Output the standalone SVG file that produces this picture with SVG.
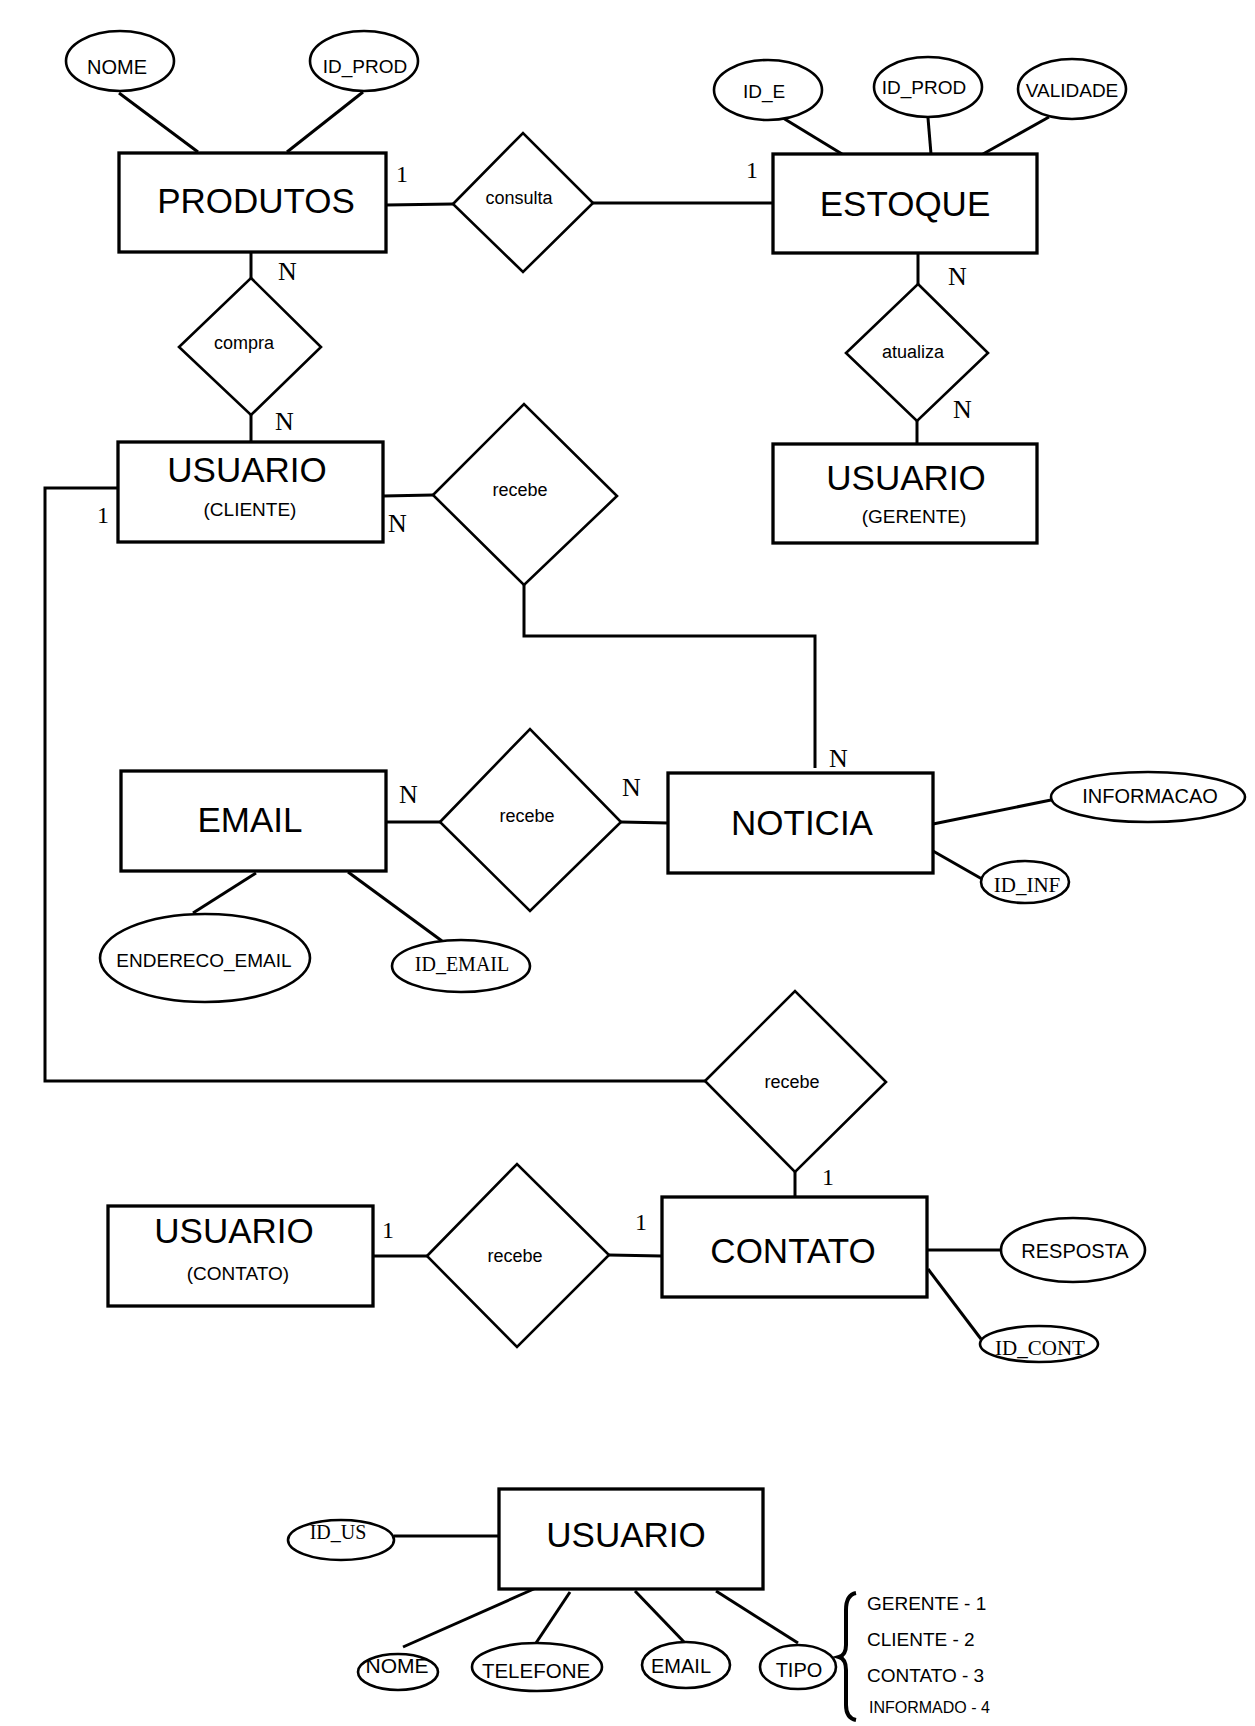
<svg xmlns="http://www.w3.org/2000/svg" width="1255" height="1726" viewBox="0 0 1255 1726">
<style>
.ent{fill:#fff;stroke:#000;stroke-width:3.3}
.rel{fill:#fff;stroke:#000;stroke-width:2.6}
.att{fill:#fff;stroke:#000;stroke-width:2.6}
.ln{fill:none;stroke:#000;stroke-width:3}
.big{font-family:"Liberation Sans",Arial,sans-serif;font-size:35px;text-anchor:middle;fill:#000}
.sub{font-family:"Liberation Sans",Arial,sans-serif;font-size:19px;text-anchor:middle;fill:#000}
.rt{font-family:"Liberation Sans",Arial,sans-serif;font-size:18px;text-anchor:middle;fill:#000}
.at{font-family:"Liberation Sans",Arial,sans-serif;font-size:19px;text-anchor:middle;fill:#000}
.at20{font-size:20px}
.sat{font-family:"Liberation Serif","Times New Roman",serif;font-size:21px;text-anchor:middle;fill:#000}
.card{font-family:"Liberation Serif","Times New Roman",serif;font-size:26px;fill:#000}
.one{font-size:24px}
.leg{font-family:"Liberation Sans",Arial,sans-serif;font-size:19px;fill:#000}
</style>
<rect width="1255" height="1726" fill="#fff"/>
<g id="connectors">
<line class="ln" x1="119" y1="93" x2="198" y2="152"/>
<line class="ln" x1="363" y1="92" x2="287" y2="152"/>
<line class="ln" x1="386" y1="205" x2="453" y2="204"/>
<line class="ln" x1="593" y1="203" x2="773" y2="203"/>
<line class="ln" x1="783" y1="118" x2="842" y2="154"/>
<line class="ln" x1="928" y1="118" x2="931" y2="154"/>
<line class="ln" x1="1049" y1="117" x2="983" y2="154"/>
<line class="ln" x1="251" y1="252" x2="251" y2="278"/>
<line class="ln" x1="251" y1="415" x2="251" y2="442"/>
<line class="ln" x1="918" y1="253" x2="918" y2="284"/>
<line class="ln" x1="917" y1="421" x2="917" y2="445"/>
<line class="ln" x1="383" y1="496" x2="433" y2="495"/>
<polyline class="ln" points="524,585 524,636 815,636 815,768"/>
<polyline class="ln" points="118,488 45,488 45,1081 705,1081"/>
<line class="ln" x1="386" y1="822" x2="440" y2="822"/>
<line class="ln" x1="621" y1="822" x2="668" y2="823"/>
<line class="ln" x1="256" y1="873" x2="193" y2="913"/>
<line class="ln" x1="348" y1="872" x2="442" y2="941"/>
<line class="ln" x1="933" y1="824" x2="1051" y2="800"/>
<line class="ln" x1="933" y1="851" x2="982" y2="879"/>
<line class="ln" x1="795" y1="1172" x2="795" y2="1197"/>
<line class="ln" x1="373" y1="1256" x2="427" y2="1256"/>
<line class="ln" x1="609" y1="1255" x2="662" y2="1256"/>
<line class="ln" x1="927" y1="1250" x2="1001" y2="1250"/>
<line class="ln" x1="928" y1="1269" x2="981" y2="1339"/>
<line class="ln" x1="394" y1="1536" x2="499" y2="1536"/>
<line class="ln" x1="536" y1="1588" x2="403" y2="1647"/>
<line class="ln" x1="570" y1="1592" x2="536" y2="1643"/>
<line class="ln" x1="635" y1="1591" x2="685" y2="1643"/>
<line class="ln" x1="716" y1="1591" x2="798" y2="1643"/>
</g>
<g id="cardinalities">
<text class="card one" x="396" y="182">1</text>
<text class="card one" x="746" y="178">1</text>
<text class="card" x="278" y="280">N</text>
<text class="card" x="275" y="430">N</text>
<text class="card" x="948" y="285">N</text>
<text class="card" x="953" y="418">N</text>
<text class="card one" x="97" y="523">1</text>
<text class="card" x="388" y="532">N</text>
<text class="card" x="829" y="767">N</text>
<text class="card" x="399" y="803">N</text>
<text class="card" x="622" y="796">N</text>
<text class="card one" x="822" y="1185">1</text>
<text class="card one" x="635" y="1230">1</text>
<text class="card one" x="382" y="1238">1</text>
</g>
<g id="produtos">
<rect class="ent" x="119" y="153" width="267" height="99"/>
<text class="big" x="256" y="213">PRODUTOS</text>
</g>
<g id="produtos-nome">
<ellipse class="att" cx="120" cy="61" rx="54" ry="30"/>
<text class="at at20" x="117" y="74">NOME</text>
</g>
<g id="produtos-id-prod">
<ellipse class="att" cx="364" cy="61" rx="54" ry="30"/>
<text class="at" x="365" y="73">ID_PROD</text>
</g>
<g id="consulta">
<polygon class="rel" points="453,204 523,133 593,203 523,272"/>
<text class="rt" x="519" y="204">consulta</text>
</g>
<g id="estoque">
<rect class="ent" x="773" y="154" width="264" height="99"/>
<text class="big" x="905" y="216">ESTOQUE</text>
</g>
<g id="estoque-id-e">
<ellipse class="att" cx="768" cy="90" rx="54" ry="30"/>
<text class="at" x="764" y="98">ID_E</text>
</g>
<g id="estoque-id-prod">
<ellipse class="att" cx="928" cy="87" rx="54" ry="30"/>
<text class="at" x="924" y="94">ID_PROD</text>
</g>
<g id="estoque-validade">
<ellipse class="att" cx="1072" cy="89" rx="54" ry="30"/>
<text class="at" x="1072" y="97">VALIDADE</text>
</g>
<g id="compra">
<polygon class="rel" points="251,278 321,347 251,415 179,347"/>
<text class="rt" x="244" y="349">compra</text>
</g>
<g id="atualiza">
<polygon class="rel" points="918,284 988,353 917,421 846,353"/>
<text class="rt" x="913" y="358">atualiza</text>
</g>
<g id="usuario-cliente">
<rect class="ent" x="118" y="442" width="265" height="100"/>
<text class="big" x="247" y="482">USUARIO</text>
<text class="sub" x="250" y="516">(CLIENTE)</text>
</g>
<g id="usuario-gerente">
<rect class="ent" x="773" y="444" width="264" height="99"/>
<text class="big" x="906" y="490">USUARIO</text>
<text class="sub" x="914" y="523">(GERENTE)</text>
</g>
<g id="recebe-cliente-noticia">
<polygon class="rel" points="433,495 524,404 617,496 524,585"/>
<text class="rt" x="520" y="496">recebe</text>
</g>
<g id="email">
<rect class="ent" x="121" y="771" width="265" height="100"/>
<text class="big" x="250" y="832">EMAIL</text>
</g>
<g id="recebe-email-noticia">
<polygon class="rel" points="440,822 530,729 621,822 530,911"/>
<text class="rt" x="527" y="822">recebe</text>
</g>
<g id="noticia">
<rect class="ent" x="668" y="773" width="265" height="100"/>
<text class="big" x="802" y="835">NOTICIA</text>
</g>
<g id="noticia-informacao">
<ellipse class="att" cx="1148" cy="797" rx="97" ry="25"/>
<text class="at at20" x="1150" y="803">INFORMACAO</text>
</g>
<g id="noticia-id-inf">
<ellipse class="att" cx="1025" cy="882" rx="44" ry="21"/>
<text class="sat" x="1027" y="892">ID_INF</text>
</g>
<g id="email-endereco">
<ellipse class="att" cx="205" cy="958" rx="105" ry="44"/>
<text class="at" x="204" y="967">ENDERECO_EMAIL</text>
</g>
<g id="email-id-email">
<ellipse class="att" cx="461" cy="966" rx="69" ry="26"/>
<text class="sat" x="462" y="971" style="font-size:20px">ID_EMAIL</text>
</g>
<g id="recebe-cliente-contato">
<polygon class="rel" points="705,1081 795,991 886,1082 795,1172"/>
<text class="rt" x="792" y="1088">recebe</text>
</g>
<g id="usuario-contato">
<rect class="ent" x="108" y="1206" width="265" height="100"/>
<text class="big" x="234" y="1243">USUARIO</text>
<text class="sub" x="238" y="1280">(CONTATO)</text>
</g>
<g id="recebe-usuario-contato">
<polygon class="rel" points="427,1256 517,1164 609,1255 517,1347"/>
<text class="rt" x="515" y="1262">recebe</text>
</g>
<g id="contato">
<rect class="ent" x="662" y="1197" width="265" height="100"/>
<text class="big" x="793" y="1263">CONTATO</text>
</g>
<g id="contato-resposta">
<ellipse class="att" cx="1073" cy="1250" rx="72" ry="32"/>
<text class="at at20" x="1075" y="1258">RESPOSTA</text>
</g>
<g id="contato-id-cont">
<ellipse class="att" cx="1039" cy="1344" rx="59" ry="18"/>
<text class="sat" x="1040" y="1355">ID_CONT</text>
</g>
<g id="usuario">
<rect class="ent" x="499" y="1489" width="264" height="100"/>
<text class="big" x="626" y="1547">USUARIO</text>
</g>
<g id="usuario-id-us">
<ellipse class="att" cx="341" cy="1540" rx="53" ry="20"/>
<text class="sat" x="338" y="1539" style="font-size:20px">ID_US</text>
</g>
<g id="usuario-nome">
<ellipse class="att" cx="398" cy="1672" rx="40" ry="18"/>
<text class="at" x="397" y="1673" style="font-size:21px">NOME</text>
</g>
<g id="usuario-telefone">
<ellipse class="att" cx="537" cy="1667" rx="65" ry="24"/>
<text class="at" x="536" y="1678" style="font-size:20.5px">TELEFONE</text>
</g>
<g id="usuario-email">
<ellipse class="att" cx="686" cy="1665" rx="44" ry="23"/>
<text class="at at20" x="681" y="1673">EMAIL</text>
</g>
<g id="usuario-tipo">
<ellipse class="att" cx="798" cy="1667" rx="38" ry="22"/>
<text class="at at20" x="799" y="1677">TIPO</text>
</g>
<g id="tipo-legend">
<path d="M856,1593 Q846,1595 846,1610 L846,1645 Q846,1655 839,1657 Q846,1659 846,1670 L846,1705 Q846,1718 856,1720" fill="none" stroke="#000" stroke-width="4"/>
<text class="leg" x="867" y="1610">GERENTE - 1</text>
<text class="leg" x="867" y="1646">CLIENTE - 2</text>
<text class="leg" x="867" y="1682">CONTATO - 3</text>
<text class="leg" x="869" y="1713" style="font-size:16px">INFORMADO - 4</text>
</g>
</svg>
